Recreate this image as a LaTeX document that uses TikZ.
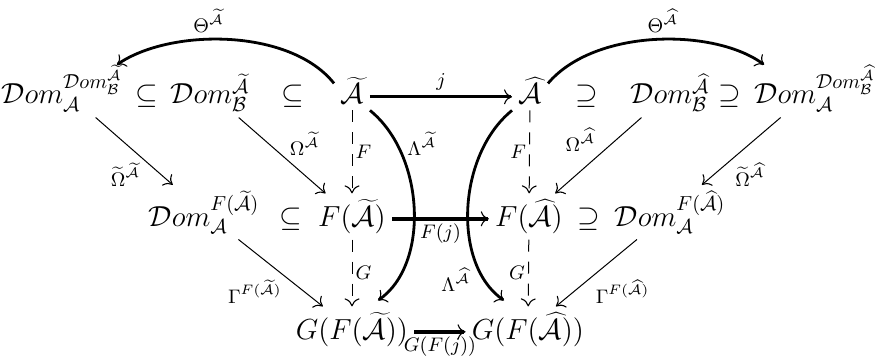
\RequirePackage{fix-cm}
\documentclass[tikz,border=0pt]{standalone}
\usetikzlibrary{arrows.meta}
\newcommand{\Dm}{\mathcal{D}om}
\newcommand{\tA}{\widetilde{\mathcal{A}}}
\newcommand{\hA}{\widehat{\mathcal{A}}}
\newcommand{\cB}{\mathcal{B}}
\newcommand{\cA}{\mathcal{A}}
\begin{document}
\begin{tikzpicture}[x=0.5pt,y=-0.5pt,
  obj/.style={anchor=base, inner sep=3pt, font=\fontsize{14.5}{17}\selectfont},
  lab/.style={inner sep=1.5pt, font=\fontsize{9.8}{11}\selectfont},
  tip/.style={-{To[length=4pt,width=7.5pt,line width=0.55pt]}},
  tarr/.style={line width=0.5pt, tip},
  darr/.style={line width=0.5pt, dash pattern=on 6pt off 5pt, tip},
  karr/.style={line width=1.4pt, tip},
  kkarr/.style={line width=2pt, tip}]
\useasboundingbox (0,0) rectangle (875,364);
% row 1
\node[obj] (d1) at (62,104) {$\Dm_{\cA}^{\Dm_{\cB}^{\tA}}$};
\node[obj] (s1) at (147,104) {$\subseteq$};
\node[obj] (d2) at (210,104) {$\Dm_{\cB}^{\tA}$};
\node[obj] (s2) at (293,104) {$\subseteq$};
\node[obj] (at) at (352,104) {$\tA$};
\node[obj] (ah) at (530,104) {$\hA$};
\node[obj] (s3) at (587,104) {$\supseteq$};
\node[obj] (d3) at (670,104) {$\Dm_{\cB}^{\hA}$};
\node[obj] (s4) at (730,104) {$\supseteq$};
\node[obj] (d4) at (815,104) {$\Dm_{\cA}^{\Dm_{\cB}^{\hA}}$};
% row 2
\node[obj] (e1) at (204,226) {$\Dm_{\cA}^{F(\tA)}$};
\node[obj] (s5) at (291,226) {$\subseteq$};
\node[obj] (fa) at (352,226) {$F(\tA)$};
\node[obj] (fh) at (529,226) {$F(\hA)$};
\node[obj] (s6) at (589,226) {$\supseteq$};
\node[obj] (e2) at (670,226) {$\Dm_{\cA}^{F(\hA)}$};
% row 3
\node[obj] (ga) at (352,339) {$G(F(\tA))$};
\node[obj] (gh) at (528,339) {$G(F(\hA))$};
% horizontal arrows
\draw[karr] ([yshift=3.6pt]at.base east) -- node[lab,above=1pt]{$j$} ([yshift=3.6pt]ah.base west);
\draw[kkarr] ([yshift=3.6pt]fa.base east) -- node[lab,below]{$F(j)$} ([yshift=3.6pt]fh.base west);
\draw[kkarr] ([yshift=3.6pt]ga.base east) -- node[lab,below]{$G(F(j))$} ([yshift=3.6pt]gh.base west);
% dashed
\draw[darr] (at) -- node[lab,right]{$F$} (fa);
\draw[darr] (fa) -- node[lab,right]{$G$} (ga);
\draw[darr] (ah) -- node[lab,left]{$F$} (fh);
\draw[darr] (fh) -- node[lab,left]{$G$} (gh);
% thin diagonals
\draw[tarr] (d1) -- node[lab,pos=0.62,below left]{$\widetilde{\Omega}^{\tA}$} (e1);
\draw[tarr] (d2) -- node[lab,pos=0.55,above right]{$\Omega^{\tA}$} (fa);
\draw[tarr] (e1) -- node[lab,pos=0.55,below left]{$\Gamma^{F(\tA)}$} (ga);
\draw[tarr] (d3) -- node[lab,pos=0.5,above left]{$\Omega^{\hA}$} (fh);
\draw[tarr] (d4) -- node[lab,pos=0.62,below right]{$\widetilde{\Omega}^{\hA}$} (e2);
\draw[tarr] (e2) -- node[lab,pos=0.55,below right]{$\Gamma^{F(\hA)}$} (gh);
% curves
\draw[karr] ([yshift=-6pt]at.north west) .. controls (290,28) and (170,28) .. node[lab,pos=0.58,above=1pt]{$\Theta^{\tA}$} ([xshift=-6pt,yshift=-3pt]d1.north east);
\draw[karr] ([yshift=-6pt]ah.north east) .. controls (595,28) and (715,28) .. node[lab,pos=0.53,above=1pt]{$\Theta^{\hA}$} ([xshift=8pt,yshift=-3pt]d4.north west);
\draw[karr] (at.south east) .. controls (425,155) and (430,265) .. node[lab,pos=0.2,right=3pt]{$\Lambda^{\tA}$} ([xshift=13pt,yshift=3pt]ga.north);
\draw[karr] (ah.south west) .. controls (457,155) and (452,265) .. node[lab,pos=0.85,left=5pt]{$\Lambda^{\hA}$} ([xshift=-12pt,yshift=3pt]gh.north);
\end{tikzpicture}
\end{document}
